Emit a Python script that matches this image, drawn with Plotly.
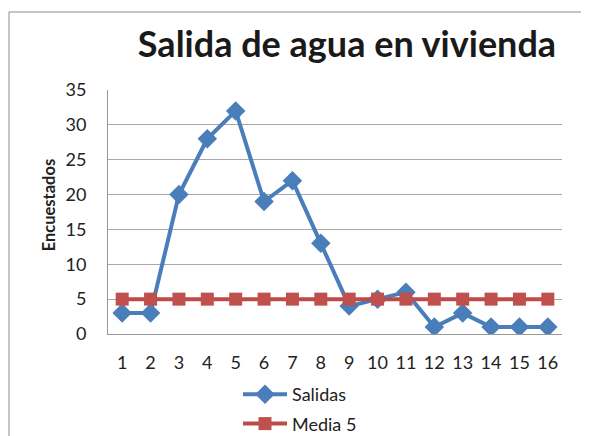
import plotly.graph_objects as go

categories = [str(i) for i in range(1, 17)]
salidas = [3, 3, 20, 28, 32, 19, 22, 13, 4, 5, 6, 1, 3, 1, 1, 1]
media = [5] * 16
y_ticks = [0, 5, 10, 15, 20, 25, 30, 35]

FONT = "Lato"
W, H = 581, 428  # page body has an 8px margin
fig = go.Figure()
fig.add_trace(go.Scatter(
    x=categories, y=salidas, name="Salidas", mode="lines+markers",
    legendgroup="a",
    line=dict(color="#4A7EBB", width=4),
    marker=dict(symbol="diamond", size=15, color="#4A7EBB"),
))
fig.add_trace(go.Scatter(
    x=categories, y=media, name="Media 5", mode="lines+markers",
    legendgroup="b",
    line=dict(color="#BE4B48", width=4),
    marker=dict(symbol="square", size=13, color="#C0504D"),
))

fig.update_layout(
    width=W, height=H,
    margin=dict(l=100, r=27, t=82, b=102, autoexpand=False),
    paper_bgcolor="white", plot_bgcolor="white",
    font=dict(family=FONT, size=17, color="#222222"),
    title=dict(text="<b>Salida de agua en vivienda</b>", x=339/W, xanchor="center",
               xref="container", yref="container",
               y=1 - 36/H, yanchor="middle", font=dict(family=FONT, size=36, color="#1a1a1a")),
    xaxis=dict(type="category", range=[-0.5, 15.5], showgrid=False, showline=True,
               linecolor="#999999", linewidth=1, ticks="", tickfont=dict(size=18),
               ticklabelstandoff=12),
    yaxis=dict(range=[0, 35], tickvals=y_ticks, showgrid=True, gridcolor="#A8A8A8",
               gridwidth=1, showline=True, linecolor="#999999", linewidth=1,
               zeroline=False, ticks="", tickfont=dict(size=18), ticklabelstandoff=17),
    legend=dict(orientation="v", xref="container", yref="container",
                x=230/W, xanchor="left", y=1 - 368/H, yanchor="top", itemwidth=44,
                font=dict(size=18), tracegroupgap=3, bgcolor="rgba(0,0,0,0)"),
    showlegend=True,
    annotations=[dict(text="<b>Encuestados</b>", textangle=-90, xref="paper", yref="paper",
                      x=-0.128, y=0.531, xanchor="center", yanchor="middle",
                      showarrow=False, font=dict(size=16.5, color="#222222"))],
    shapes=[dict(type="rect", xref="paper", yref="paper", x0=-0.218, x1=1.3,
                 y0=-0.6, y1=1.3197, line=dict(color="#8C8C8C", width=1),
                 fillcolor="rgba(0,0,0,0)", layer="below")],
)
fig.write_html("out.html")
